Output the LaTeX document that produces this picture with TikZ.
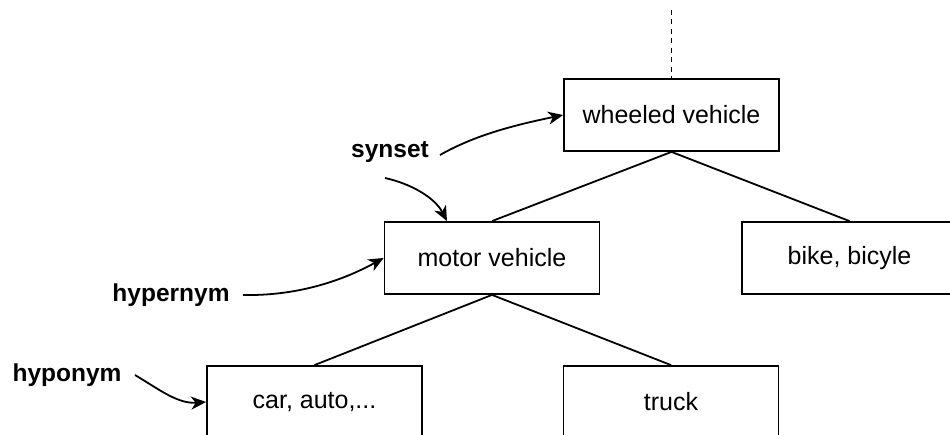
\documentclass[tikz,border=0pt]{standalone}
\usepackage{fontspec}
\setmainfont{Liberation Sans}
\usetikzlibrary{arrows.meta}
\begin{document}
\begin{tikzpicture}[x=1pt,y=-1pt,
  box/.style={draw,line width=1.8pt,minimum width=215pt,minimum height=72pt,inner sep=0pt,font=\fontsize{25}{30}\selectfont},
  lbl/.style={font=\fontsize{24.5}{29}\selectfont\bfseries,inner sep=0pt},
  edge/.style={line width=1.8pt},
  pointer/.style={line width=1.8pt,-{Stealth[length=15pt,width=13pt,inset=4.5pt]}}]
\useasboundingbox (0,0) rectangle (950,435);
\node[box] (wv) at (671.5,115) {wheeled vehicle};
\node[box] (mv) at (492,258) {motor vehicle};
\node[box] (bb) at (849.5,258) {bike, bicyle};
\node[box] (car) at (314.5,402) {car, auto,...};
\node[box] (tr) at (671,402) {truck};
\coordinate (top) at (671.5,10);
\draw[edge,dash pattern=on 5pt off 4.5pt] (top) -- (wv.north);
\draw[edge] (wv.south) -- (mv.north);
\draw[edge] (wv.south) -- (bb.north);
\draw[edge] (mv.south) -- (car.north);
\draw[edge] (mv.south) -- (tr.north);
\node[lbl] (syn) at (390,152) {synset};
\node[lbl] (hyper) at (171,295) {hypernym};
\node[lbl] (hypo) at (67,375) {hyponym};
\coordinate (s1) at (440,155);
\coordinate (s2) at (385,178);
\coordinate (h1) at (243,295);
\coordinate (h2) at (135,375);
\draw[pointer] (s1) .. controls (475,135) and (515,125) .. (wv.west);
\draw[pointer] (s2) .. controls (412,184) and (435,198) .. ([xshift=-45pt]mv.north);
\draw[pointer] (h1) .. controls (295,296) and (340,282) .. (mv.west);
\draw[pointer] (h2) .. controls (160,390) and (178,404) .. (car.west);
\end{tikzpicture}
\end{document}
